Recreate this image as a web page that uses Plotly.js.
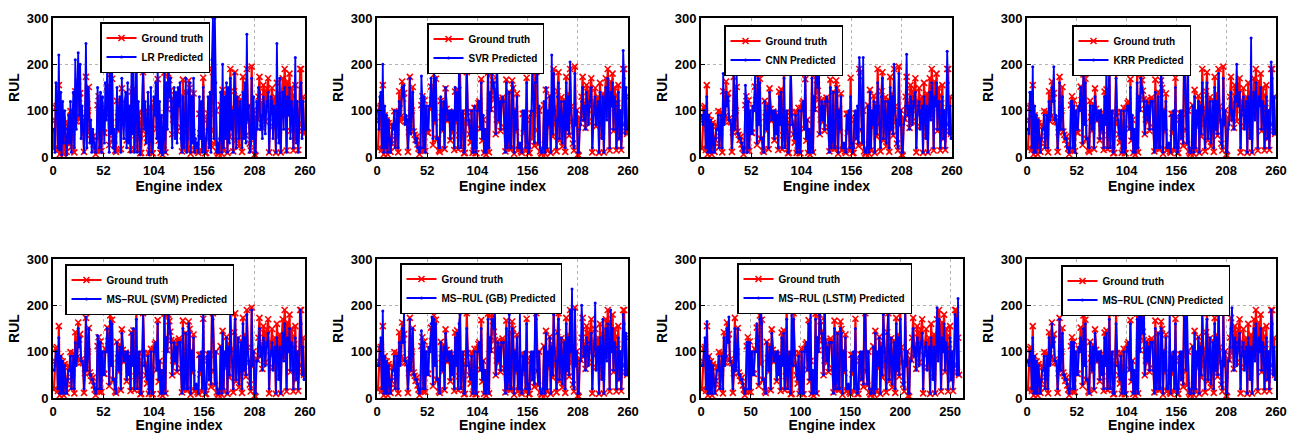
<!DOCTYPE html>
<html><head><meta charset="utf-8">
<script src="https://cdn.plot.ly/plotly-3.0.1.min.js"></script>
<style>html,body{margin:0;padding:0;background:#fff}#c{width:1298px;height:433px}</style>
</head><body><div id="c"></div>
<script>
const groundTruth = [18,79,106,110,15,155,6,90,11,79,6,73,30,11,37,67,68,99,22,54,
97,10,142,77,88,163,126,138,83,78,75,11,53,173,63,100,151,55,48,37,
44,27,18,6,15,112,131,13,122,13,98,53,52,106,103,152,123,26,178,73,
169,39,39,14,11,121,86,56,115,17,148,104,78,86,98,36,94,52,91,15,
141,74,146,17,47,194,21,79,97,8,9,73,183,97,73,49,31,97,9,14,
106,8,8,106,116,120,61,168,35,80,9,57,5,15,182,10,131,103,180,166,
143,125,49,81,123,75,114,56,122,128,123,64,12,167,19,34,140,18,18,165,
149,7,103,54,137,14,17,22,12,9,93,51,93,13,171,28,8,9,80,94,
39,94,24,190,183,58,27,100,12,8,7,13,112,7,145,14,95,64,132,9,
118,44,190,105,71,12,142,183,36,97,129,23,85,124,11,173,58,137,46,190,
109,77,29,14,195,68,101,5,3,85,82,130,173,96,118,63,155,140,77,125,
147,170,10,102,120,149,66,98,130,9,160,112,45,137,10,129,170,88,190,145,
14,163,120,180,56,150,132,14,116,155,39,100,15,71,190,190,56,130,50];

const predLR = [60,10,160,130,20,220,15,140,5,120,30,100,60,5,40,90,30,120,10,70,
140,20,210,60,130,225,90,200,40,110,60,10,90,245,20,150,120,30,80,10,
60,30,20,10,40,150,100,20,140,10,130,60,30,160,80,210,90,10,240,50,
200,20,60,10,30,150,60,90,130,10,170,80,40,120,140,20,160,30,110,10,
190,50,210,10,90,240,10,120,60,5,40,100,200,60,120,30,60,140,5,40,
150,10,30,130,90,160,40,200,20,120,10,90,5,40,190,10,160,60,200,130,
170,100,20,120,150,40,140,30,150,110,160,40,10,130,20,60,170,10,40,140,
160,10,130,30,170,10,40,20,30,10,130,40,120,10,150,20,10,40,60,130,
20,140,10,210,300,40,300,160,10,30,10,40,140,10,200,20,130,40,160,10,
150,30,170,60,100,10,180,140,20,130,100,40,120,90,20,140,40,160,30,265,
80,110,10,30,170,40,130,5,10,120,60,150,140,60,90,40,130,110,50,100,
120,140,10,80,130,120,40,110,100,10,245,80,30,170,10,110,140,60,150,120,
10,130,90,150,40,120,100,20,90,215,30,120,10,60,150,160,40,120,60];

const predSVR = [100,60,130,140,20,200,10,110,20,90,10,80,40,10,30,70,60,100,20,70,
100,20,120,90,110,150,130,155,70,90,80,20,60,170,50,110,140,60,50,30,
40,20,20,10,20,175,120,20,130,10,110,60,60,110,110,170,130,40,190,80,
170,40,40,20,20,130,90,60,120,20,150,100,80,90,100,40,100,60,100,20,
150,80,140,20,218,150,20,90,100,10,20,80,205,100,80,50,40,100,10,20,
110,10,20,100,120,120,60,160,40,90,10,60,10,20,200,20,140,100,180,150,
160,130,50,230,130,80,120,60,120,130,120,60,10,160,20,40,140,20,20,160,
150,10,100,60,130,20,20,30,20,10,100,60,100,20,160,30,10,20,90,100,
215,100,30,160,170,210,30,110,20,10,10,20,120,10,150,20,100,70,130,10,
220,50,180,100,80,20,130,160,40,100,120,30,90,120,20,160,60,130,50,205,
100,80,30,20,180,70,100,10,10,60,70,120,150,80,110,60,140,120,70,110,
130,150,20,90,110,130,70,100,120,10,140,100,40,130,10,120,150,80,170,130,
20,140,110,160,60,130,120,20,110,140,40,100,20,70,230,170,50,150,60];

const predCNN = [90,70,100,100,20,130,10,90,10,80,10,70,30,10,40,60,60,90,20,60,
90,20,180,70,90,140,110,130,80,80,70,20,60,200,60,100,180,50,50,40,
40,30,20,10,20,155,120,10,120,20,100,50,50,110,100,180,120,30,170,70,
160,40,40,20,10,120,80,60,110,20,140,100,80,90,100,40,100,50,90,20,
130,70,140,20,50,170,20,80,100,10,10,70,210,90,70,50,40,90,10,20,
100,10,10,100,110,120,60,190,40,80,10,60,10,20,170,10,130,100,190,160,
150,217,50,90,120,80,110,60,120,130,120,60,10,150,20,40,140,20,20,150,
140,10,100,60,130,20,20,30,20,10,90,60,100,20,130,30,10,20,90,100,
40,110,30,215,170,60,30,215,20,10,10,20,110,10,140,20,100,70,120,10,
110,50,160,110,70,20,130,170,40,100,120,30,90,120,20,150,60,130,50,200,
100,80,30,20,180,70,100,10,10,70,80,110,222,90,110,60,130,120,70,110,
130,140,20,90,110,120,60,100,110,10,130,100,40,110,10,100,140,80,160,130,
20,130,110,160,60,120,120,20,100,130,40,100,20,70,228,160,50,110,40];

const predKRR = [60,50,140,140,20,195,10,110,10,90,20,80,40,10,40,60,60,90,20,60,
90,20,120,80,90,150,120,195,80,90,70,20,60,160,60,100,130,60,50,40,
40,20,20,10,20,120,120,20,110,10,100,60,60,110,100,150,120,30,210,70,
160,40,40,20,20,110,90,60,110,20,130,100,80,90,100,40,100,60,90,20,
130,70,214,20,60,230,20,90,100,10,20,80,170,90,80,50,40,100,10,20,
100,10,20,100,110,110,60,150,40,90,10,60,10,20,160,20,130,100,170,150,
140,120,50,100,120,80,110,60,120,120,120,60,10,140,20,40,130,20,20,210,
140,10,100,60,120,20,20,30,20,10,90,60,100,20,150,30,10,20,90,100,
40,100,30,215,180,60,30,250,20,10,10,20,110,10,130,20,100,70,120,10,
110,50,160,100,80,20,130,160,40,90,120,30,90,120,20,150,60,120,50,180,
100,80,30,20,170,70,100,10,10,60,70,110,140,80,100,60,130,120,200,110,
120,140,20,90,110,130,60,100,120,10,130,100,40,257,10,110,140,80,160,120,
20,130,110,150,60,120,110,20,100,130,40,100,20,70,205,170,50,130,50];

const predMSSVM = [60,70,100,100,20,130,10,90,10,80,10,70,30,10,40,60,60,90,20,60,
90,20,120,70,90,150,110,130,80,80,70,20,60,175,60,100,150,50,50,40,
40,30,20,10,20,135,120,20,120,20,100,50,50,100,100,150,120,30,165,70,
160,40,40,20,10,120,80,60,110,20,140,100,80,90,100,40,100,50,90,20,
140,70,150,20,50,170,20,80,100,10,10,70,180,100,70,50,40,90,10,20,
100,10,10,100,110,120,60,160,40,80,10,60,10,20,207,10,130,100,180,160,
140,120,50,80,120,80,110,60,120,120,120,60,10,150,20,40,140,20,20,160,
140,10,100,60,130,20,20,30,20,10,90,60,100,20,205,30,10,20,90,100,
40,100,30,180,170,60,30,100,20,10,10,20,110,10,140,20,100,70,130,10,
110,50,185,100,80,20,140,170,40,100,130,30,90,120,20,160,60,130,50,180,
100,80,30,20,190,70,100,10,10,80,80,110,150,90,110,60,130,120,70,110,
120,140,20,90,100,120,60,100,110,10,130,100,40,110,10,100,140,80,160,120,
20,130,100,150,60,120,110,20,100,130,40,100,20,70,190,160,50,110,40];

const predMSGB = [70,70,110,130,20,188,10,90,10,80,10,70,30,10,40,60,60,90,20,60,
90,20,120,70,120,150,120,185,80,80,70,20,60,170,60,100,150,50,50,40,
40,30,20,10,20,145,120,20,120,20,100,50,50,110,100,160,175,30,170,70,
160,40,40,20,10,120,80,60,110,20,140,100,80,90,100,40,100,50,90,20,
130,70,140,20,160,180,20,80,100,10,10,70,150,100,70,50,40,90,10,20,
100,10,10,100,110,120,60,150,40,80,10,60,10,20,170,10,130,100,170,160,
150,220,50,80,120,80,110,60,120,120,120,60,10,150,20,40,180,20,20,150,
140,10,100,60,130,20,20,185,20,10,90,60,100,20,160,30,10,20,90,100,
40,100,30,215,170,60,30,100,20,10,10,20,110,10,140,20,100,70,130,10,
110,50,180,100,80,20,140,170,40,100,130,30,90,120,20,160,60,130,50,190,
100,235,30,20,190,70,100,10,10,80,80,200,150,90,110,60,130,120,70,110,
120,140,20,90,110,205,60,100,110,10,130,100,40,170,10,100,150,80,160,120,
20,190,100,150,60,120,110,20,100,130,40,100,20,70,180,160,50,140,50];

const predMSLSTM = [70,70,100,130,20,165,10,90,10,80,10,70,30,10,40,60,60,90,20,60,
90,20,130,70,90,150,120,175,80,80,70,20,60,150,60,100,150,50,50,40,
40,30,20,10,20,120,120,20,120,20,100,50,50,100,100,160,120,30,170,205,
160,40,40,20,10,120,80,60,110,20,140,100,80,90,100,40,100,50,90,20,
130,70,140,20,50,170,20,80,100,10,195,70,170,100,70,50,40,90,10,20,
100,10,10,100,110,120,60,160,40,208,10,60,10,20,170,10,130,100,180,160,
140,120,50,255,120,80,110,60,120,120,120,60,10,150,20,40,140,20,20,150,
140,10,100,60,130,20,20,30,20,10,90,60,100,20,150,30,10,20,90,100,
40,100,30,180,195,60,30,100,20,10,10,20,110,10,140,20,100,70,130,10,
110,50,180,100,80,20,140,205,40,100,130,30,90,120,20,160,60,130,50,170,
100,80,30,20,195,70,100,10,10,80,80,110,150,90,110,60,130,120,70,110,
120,140,20,90,110,120,60,100,110,10,130,100,40,110,10,100,195,80,170,120,
20,130,100,160,60,120,110,20,100,130,40,100,20,70,180,170,50,215,50];

const predMSCNN = [80,70,100,100,20,130,10,90,10,80,10,70,30,10,40,60,60,90,20,60,
90,20,130,70,90,160,110,130,80,80,70,20,60,170,60,100,140,50,50,40,
40,30,20,10,20,120,120,20,120,20,100,50,50,110,100,130,120,30,150,70,
160,40,40,20,10,120,80,60,110,20,140,100,80,90,100,40,100,50,90,20,
130,70,140,20,50,170,20,80,100,10,10,70,160,100,70,50,40,90,10,20,
100,10,10,100,110,120,60,160,40,80,10,60,10,20,170,10,185,100,180,160,
140,220,50,80,120,80,110,60,120,120,120,60,10,150,20,40,140,20,20,150,
140,10,100,60,130,20,20,30,200,10,90,60,100,20,160,30,10,20,90,100,
40,100,30,180,170,60,200,100,20,10,10,20,110,10,140,20,100,70,130,10,
110,50,180,100,80,20,140,170,40,100,130,30,90,120,20,160,60,130,50,195,
100,80,30,20,180,70,100,10,10,80,80,110,150,195,110,60,130,120,70,110,
120,140,20,90,110,120,60,100,110,10,130,100,40,110,10,100,150,80,160,120,
20,130,100,150,60,120,110,20,100,130,40,100,20,70,190,160,50,110,40];

const predictions = [predLR, predSVR, predCNN, predKRR, predMSSVM, predMSGB, predMSLSTM, predMSCNN];
const predLabels = ['LR Predicted','SVR Predicted','CNN Predicted','KRR Predicted',
  'MS\u2212RUL (SVM) Predicted','MS\u2212RUL (GB) Predicted','MS\u2212RUL (LSTM) Predicted','MS\u2212RUL (CNN) Predicted'];
const truthLabel = 'Ground truth';
const xTicks52 = [0,52,104,156,208,260];
const xTicks50 = [0,50,100,150,200,250];
const yTicks = [0,100,200,300];

[groundTruth].concat(predictions).forEach((a,i)=>{ if(a.length!==259) throw new Error('len '+i+' '+a.length); });

// layout geometry (pixels): [left, right, top, bottom], legend [left, top], x-range max
const W=1298, H=433;
const boxes = [[53,305,18,157],[377,628,18,157],[701,952,18,157],[1027,1276,18,157],
               [53,305,259,398],[377,628,259,398],[701,963,259,398],[1027,1276,259,398]];
const legPos = [[100,22],[427,23],[724,25],[1072,25],[65,264],[400,263],[737,263],[1061,265]];
const xMax = [260,260,260,260,260,260,263,260];
const xTickSets = [xTicks52,xTicks52,xTicks52,xTicks52,xTicks52,xTicks52,xTicks50,xTicks52];

const idx = groundTruth.map((_,i)=>i+1);
const FONT = 'Liberation Sans, Arial, Helvetica, sans-serif';
const traces = [];
const layout = {width:W, height:H, margin:{l:0,r:0,t:0,b:0}, paper_bgcolor:'#fff', plot_bgcolor:'#fff',
  showlegend:true, font:{family:FONT, color:'#000', weight:'bold'}};

predictions.forEach((pred,k)=>{
  const n = k+1, ax = n===1?'':String(n);
  const lg = n===1?'legend':'legend'+n;
  traces.push({x:idx, y:groundTruth, xaxis:'x'+ax, yaxis:'y'+ax, type:'scatter', mode:'lines+markers',
    name:truthLabel, legend:lg, line:{color:'#ff0000', width:2.2},
    marker:{symbol:'x-thin', size:6, color:'#ff0000', line:{width:1.6, color:'#ff0000'}}});
  traces.push({x:idx, y:pred, xaxis:'x'+ax, yaxis:'y'+ax, type:'scatter', mode:'lines+markers',
    name:predLabels[k], legend:lg, line:{color:'#0000ff', width:1.8},
    marker:{symbol:'circle', size:3, color:'#0000ff'}});
  const b = boxes[k];
  const axCommon = {showline:true, mirror:true, linecolor:'#000', linewidth:2, ticks:'inside', ticklen:4,
    tickcolor:'#000', showgrid:true, gridcolor:'#b4b4b4', griddash:'dot', gridwidth:1, zeroline:false,
    tickfont:{size:13, family:FONT, weight:'bold', color:'#000'}, automargin:false, fixedrange:true};
  layout['xaxis'+ax] = Object.assign({}, axCommon, {domain:[b[0]/W, b[1]/W], anchor:'y'+ax,
    range:[0, xMax[k]], tickmode:'array', tickvals:xTickSets[k],
    title:{text:'Engine index', font:{size:14, family:FONT, weight:'bold', color:'#000'}, standoff:2}});
  layout['yaxis'+ax] = Object.assign({}, axCommon, {domain:[1-b[3]/H, 1-b[2]/H], anchor:'x'+ax,
    range:[0,300], tickmode:'array', tickvals:yTicks,
    title:{text:'RUL', font:{size:14, family:FONT, weight:'bold', color:'#000'}, standoff:4}});
  const lp = legPos[k];
  layout[lg] = {x:lp[0]/W, y:1-lp[1]/H, xanchor:'left', yanchor:'top', xref:'paper', yref:'paper',
    bgcolor:'#fff', bordercolor:'#000', borderwidth:1.5, itemwidth:30, tracegroupgap:0,
    font:{size:10, family:FONT, weight:'bold', color:'#000'}, itemclick:false, itemdoubleclick:false};
});

Plotly.newPlot('c', traces, layout, {displayModeBar:false, staticPlot:true});
</script>
</body></html>
